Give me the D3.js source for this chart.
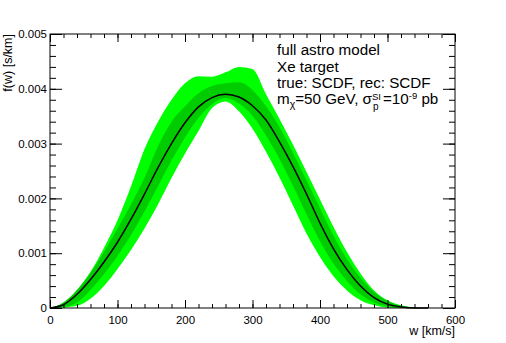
<!DOCTYPE html>
<html><head><meta charset="utf-8">
<script src="https://cdn.jsdelivr.net/npm/d3@7"></script>
<style>body{margin:0;background:#fff}svg{display:block}text{font-family:"Liberation Sans",Arial,Helvetica,sans-serif}</style>
</head><body><svg id="c" width="506" height="343"></svg>
<script>
// data: velocity grid (km/s) and f(w) curves (s/km)
const wGrid   = [0,20,40,60,80,100,120,140,160,180,200,220,240,260,280,300,320,340,360,380,400,420,440,460,480,500,520,540,560];
const median  = [0,0.00006,0.00025,0.00052,0.00084,0.0012,0.00162,0.00208,0.00256,0.003,0.00338,0.00367,0.00384,0.0039,0.00385,0.00369,0.00343,0.00303,0.00258,0.00208,0.00155,0.00108,0.0007,0.0004,0.00019,0.00007,0.00002,0,0];
const innerHi = [0,0.0001,0.00033,0.00064,0.00102,0.00145,0.00189,0.00237,0.00295,0.0034,0.00368,0.00392,0.00405,0.0041,0.00412,0.00398,0.00368,0.0033,0.00283,0.00233,0.00182,0.00132,0.00089,0.00055,0.00029,0.00013,0.00004,0.00001,0];
const innerLo = [0,0.00002,0.0001,0.00033,0.00062,0.00095,0.00133,0.00176,0.00222,0.00269,0.00311,0.00347,0.00372,0.00383,0.00373,0.00351,0.00315,0.00272,0.00223,0.00171,0.00122,0.00081,0.00049,0.00025,0.0001,0.00003,0.00001,0,0];
const outerHi = [0,0.0001,0.00033,0.00066,0.0011,0.0016,0.00222,0.0029,0.0034,0.0038,0.0041,0.00423,0.00422,0.0043,0.0044,0.00436,0.0039,0.00345,0.00298,0.00248,0.00198,0.00148,0.00102,0.00063,0.00032,0.00014,0.00005,0.00001,0];
const outerLo = [0,0.00001,0.00004,0.00017,0.0004,0.00071,0.00106,0.00145,0.00189,0.00237,0.00282,0.00323,0.00365,0.00377,0.00359,0.00327,0.00285,0.00238,0.00187,0.00136,0.00093,0.00058,0.00032,0.00014,0.00005,0.00001,0,0,0];
const xTicks = [0,100,200,300,400,500,600];
const yTicks = [0,0.001,0.002,0.003,0.004,0.005];
const yTickLabels = ["0","0.001","0.002","0.003","0.004","0.005"];

const svg = d3.select("#c");
const x = d3.scaleLinear().domain([0,600]).range([50,455]);
const y = d3.scaleLinear().domain([0,0.005]).range([308,34]);

const band = (lo, hi) => d3.area().x((d,i)=>x(wGrid[i])).y0((d,i)=>y(lo[i])).y1((d,i)=>y(hi[i])).curve(d3.curveMonotoneX)(wGrid);
svg.append("path").attr("d", band(outerLo, outerHi)).attr("fill","#00ff00");
svg.append("path").attr("d", band(innerLo, innerHi)).attr("fill","#00cc00");
svg.append("path").attr("d", d3.line().x((d,i)=>x(wGrid[i])).y((d,i)=>y(median[i])).curve(d3.curveMonotoneX)(wGrid))
  .attr("fill","none").attr("stroke","#000").attr("stroke-width",1.5);

// axes
const minorX = d3.range(0,601,20), minorY = d3.range(0,0.00501,0.0002);
// bottom
svg.append("g").attr("transform","translate(0,308)")
  .call(d3.axisTop(x).tickValues(minorX).tickSize(4).tickFormat(""));
svg.append("g").attr("transform","translate(0,308)")
  .call(d3.axisTop(x).tickValues(xTicks).tickSize(8).tickFormat(""));
svg.append("g").attr("transform","translate(0,308)")
  .call(d3.axisBottom(x).tickValues(xTicks).tickSize(0).tickPadding(8).tickFormat(d=>d3.format("d")(d)));
// top
svg.append("g").attr("transform","translate(0,34)")
  .call(d3.axisBottom(x).tickValues(minorX).tickSize(4).tickFormat(""));
svg.append("g").attr("transform","translate(0,34)")
  .call(d3.axisBottom(x).tickValues(xTicks).tickSize(8).tickFormat(""));
// left
svg.append("g").attr("transform","translate(50,0)")
  .call(d3.axisRight(y).tickValues(minorY).tickSize(6).tickFormat(""));
svg.append("g").attr("transform","translate(50,0)")
  .call(d3.axisRight(y).tickValues(yTicks).tickSize(12).tickFormat(""));
svg.append("g").attr("transform","translate(50,0)")
  .call(d3.axisLeft(y).tickValues(yTicks).tickSize(0).tickPadding(3).tickFormat((d,i)=>yTickLabels[i]));
// right
svg.append("g").attr("transform","translate(455,0)")
  .call(d3.axisLeft(y).tickValues(minorY).tickSize(6).tickFormat(""));
svg.append("g").attr("transform","translate(455,0)")
  .call(d3.axisLeft(y).tickValues(yTicks).tickSize(12).tickFormat(""));
svg.selectAll(".domain").remove();
svg.selectAll(".tick line").attr("stroke","#000");
svg.selectAll(".tick text").attr("font-size",11.5).attr("fill","#000").attr("font-family","Liberation Sans, Arial, sans-serif");
svg.append("rect").attr("x",50).attr("y",34).attr("width",405).attr("height",274)
  .attr("fill","none").attr("stroke","#000").attr("stroke-width",1);

// axis titles
svg.append("text").attr("transform","translate(12,34) rotate(-90)").attr("text-anchor","end")
  .attr("font-size",12.5).text("f(w) [s/km]");
svg.append("text").attr("x",455).attr("y",335).attr("text-anchor","end")
  .attr("font-size",12.5).text("w [km/s]");

// legend text
const tx = 277, fs = 15.2;
const lines = ["full astro model","Xe target","true: SCDF, rec: SCDF"];
const bl = [55,72,88];
lines.forEach((t,i)=>svg.append("text").attr("x",tx).attr("y",bl[i]).attr("font-size",fs).text(t));
const l4 = svg.append("text").attr("x",tx).attr("y",104).attr("font-size",fs);
l4.append("tspan").text("m");
l4.append("tspan").attr("dy",4).attr("font-size",10.5).text("χ");
l4.append("tspan").attr("dy",-4).text("=50 GeV, σ");
const wA = l4.node().getComputedTextLength();
svg.append("text").attr("x",tx+wA).attr("y",99.5).attr("font-size",9.5).text("SI");
svg.append("text").attr("x",tx+wA+1).attr("y",110).attr("font-size",10).text("p");
const l5 = svg.append("text").attr("x",tx+wA+11).attr("y",104).attr("font-size",fs);
l5.append("tspan").text("=10");
l5.append("tspan").attr("dy",-5).attr("font-size",9.5).text("-9");
l5.append("tspan").attr("dy",5).text(" pb");
</script></body></html>
